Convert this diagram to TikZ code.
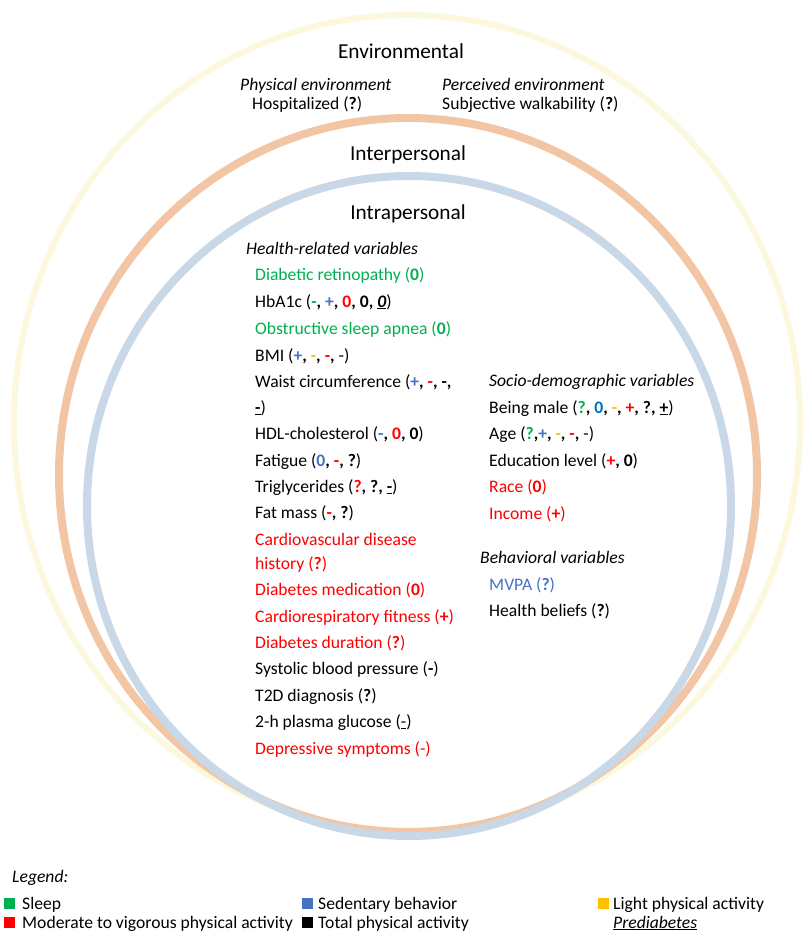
\documentclass[tikz,border=0pt]{standalone}
\usepackage{fontspec}
\setmainfont{Carlito}
\definecolor{sgreen}{HTML}{00B050}
\definecolor{sred}{HTML}{FF0000}
\definecolor{sblue}{HTML}{4472C4}
\definecolor{sblueb}{HTML}{0070C0}
\definecolor{syellow}{HTML}{FFC000}
\definecolor{ringy}{HTML}{FBF8DE}
\definecolor{ringo}{HTML}{F2C5A5}
\definecolor{ringb}{HTML}{C9D8E7}
\newcommand{\G}[1]{\textcolor{sgreen}{\textbf{#1}}}
\newcommand{\R}[1]{\textcolor{sred}{\textbf{#1}}}
\newcommand{\B}[1]{\textcolor{sblue}{\textbf{#1}}}
\newcommand{\Y}[1]{\textcolor{syellow}{\textbf{#1}}}
\newcommand{\K}[1]{\textbf{#1}}
\newcommand{\U}[1]{\underline{\textbf{#1}}}
\begin{document}
\begin{tikzpicture}[x=1pt,y=-1pt,
  txt/.style={anchor=base west,inner sep=0pt,font=\fontsize{17.6}{20}\selectfont},
  ttl/.style={anchor=base,inner sep=0pt,font=\fontsize{21.3}{25}\selectfont},
  lsq/.style={minimum size=10.5pt,inner sep=0pt,anchor=north west}]
\useasboundingbox (0,0) rectangle (803,932);
% rings
\draw[ringy,line width=6pt] (407,423) ellipse [x radius=393, y radius=408];
\draw[ringo,line width=8pt] (408,475) ellipse [x radius=349, y radius=357];
\draw[ringb,line width=8pt] (409,506) ellipse [x radius=322, y radius=330];
% titles
\node[ttl] (env) at (401,58) {Environmental};
\node[ttl] (inter) at (408,160) {Interpersonal};
\node[ttl] (intra) at (408,219) {Intrapersonal};
% environmental
\node[txt] (physenv) at (240,90) {\textit{Physical environment}};
\node[txt] (hosp) at (252,109) {Hospitalized (\K{?})};
\node[txt] (percenv) at (442,90) {\textit{Perceived environment}};
\node[txt] (walk) at (442,109) {Subjective walkability (\K{?})};
% health-related
\node[txt] (hr) at (246,254) {\textit{Health-related variables}};
\node[txt] (h1) at (255,280) {\textcolor{sgreen}{Diabetic retinopathy (\textbf{0})}};
\node[txt] (h2) at (255,307) {HbA1c (\G{-}\K{,} \B{+}\K{,} \R{0}\K{,} \K{0,} \underline{\textbf{\textit{0}}})};
\node[txt] (h3) at (255,334) {\textcolor{sgreen}{Obstructive sleep apnea (\textbf{0})}};
\node[txt] (h4) at (255,361) {BMI (\B{+}\K{,} \Y{-}\K{,} \R{-}\K{,} -)};
\node[txt] (h5) at (255,387) {Waist circumference (\B{+}\K{,} \R{-}\K{,} \K{-,}};
\node[txt] (h5b) at (255,413) {\U{-})};
\node[txt] (h6) at (255,439) {HDL-cholesterol (\B{-}\K{,} \R{0}\K{,} \K{0})};
\node[txt] (h7) at (255,466) {Fatigue (\B{0}\K{,} \R{-}\K{,} \K{?})};
\node[txt] (h8) at (255,492) {Triglycerides (\R{?}\K{,} \K{?,} \U{-})};
\node[txt] (h9) at (255,518) {Fat mass (\R{-}\K{,} \K{?})};
\node[txt] (h10) at (255,545) {\textcolor{sred}{Cardiovascular disease}};
\node[txt] (h10b) at (255,569) {\textcolor{sred}{history (\textbf{?})}};
\node[txt] (h11) at (255,595) {\textcolor{sred}{Diabetes medication (\textbf{0})}};
\node[txt] (h12) at (255,622) {\textcolor{sred}{Cardiorespiratory fitness (\textbf{+})}};
\node[txt] (h13) at (255,648) {\textcolor{sred}{Diabetes duration (\textbf{?})}};
\node[txt] (h14) at (255,674) {Systolic blood pressure (\K{-})};
\node[txt] (h15) at (255,701) {T2D diagnosis (\K{?})};
\node[txt] (h16) at (255,727) {2-h plasma glucose (\underline{-})};
\node[txt] (h17) at (255,754) {\textcolor{sred}{Depressive symptoms (-)}};
% socio-demographic
\node[txt] (sd) at (489,386) {\textit{Socio-demographic variables}};
\node[txt] (s1) at (489,413) {Being male (\G{?}\K{,} \textcolor{sblueb}{\textbf{0}}\K{,} \Y{-}\K{,} \R{+}\K{,} \K{?,} \U{+})};
\node[txt] (s2) at (489,439) {Age (\G{?}\K{,}\B{+}\K{,} \Y{-}\K{,} \R{-}\K{,} -)};
\node[txt] (s3) at (489,466) {Education level (\R{+}\K{,} \K{0})};
\node[txt] (s4) at (489,492) {\textcolor{sred}{Race (\textbf{0})}};
\node[txt] (s5) at (489,519) {\textcolor{sred}{Income (\textbf{+})}};
% behavioral
\node[txt] (bv) at (480,563) {\textit{Behavioral variables}};
\node[txt] (b1) at (489,590) {\textcolor{sblue}{MVPA (\textbf{?})}};
\node[txt] (b2) at (489,616) {Health beliefs (\K{?})};
% legend
\node[txt] (leg) at (12,882) {\textit{Legend:}};
\node[lsq,fill=sgreen] (sq1) at (4,898) {};
\node[txt] (l1) at (22,909) {Sleep};
\node[lsq,fill=sblue] (sq2) at (302,898) {};
\node[txt] (l2) at (318,909) {Sedentary behavior};
\node[lsq,fill=syellow] (sq3) at (598,898) {};
\node[txt] (l3) at (613,909) {Light physical activity};
\node[lsq,fill=sred] (sq4) at (4,917) {};
\node[txt] (l4) at (22,928) {Moderate to vigorous physical activity};
\node[lsq,fill=black] (sq5) at (302,917) {};
\node[txt] (l5) at (318,928) {Total physical activity};
\node[txt] (l6) at (613,928) {\underline{\textit{Prediabetes}}};
\end{tikzpicture}
\end{document}
